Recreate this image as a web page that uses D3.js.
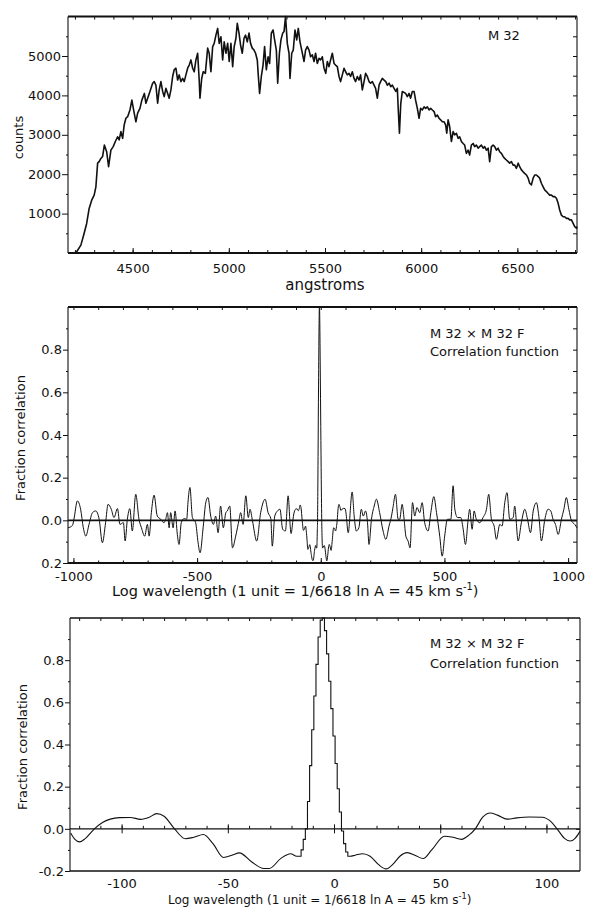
<!DOCTYPE html>
<html>
<head>
<meta charset="utf-8">
<script src="https://cdn.jsdelivr.net/npm/d3@7"></script>
<style>
  body { margin: 0; background: #fff; }
  svg { display: block; }
  text { font-family: "DejaVu Sans", sans-serif; fill: #111; }
  .axis path { display: none; }
  .axis line { stroke: #111; stroke-width: 1; }
  .axis text { font-size: 13px; }
</style>
</head>
<body>
<svg id="chart" width="589" height="911"></svg>
<script>
// Spectrum of M 32: [wavelength (angstroms), counts]
const spectrum = [
  [4205,0],[4231,200],[4248,500],[4261,750],[4274,1130],[4288,1350],[4300,1470],[4309,1680],[4318,2280],[4326,2320],
  [4335,2400],[4344,2450],[4353,2740],[4365,2570],[4375,2190],[4387,2610],[4399,2700],[4410,2830],[4422,2950],[4430,2870],
  [4439,3080],[4448,2910],[4456,3250],[4465,3420],[4474,3460],[4486,3630],[4496,3880],[4505,3630],[4517,3330],[4526,3550],
  [4538,3670],[4548,3880],[4561,4050],[4569,3800],[4578,3930],[4590,4100],[4604,4310],[4612,4350],[4621,4260],[4630,3800],
  [4638,4140],[4647,4350],[4656,4100],[4664,3970],[4673,4180],[4682,4050],[4690,3930],[4699,4140],[4708,4480],[4716,4650],
  [4725,4690],[4734,4390],[4742,4520],[4751,4350],[4760,4430],[4768,4350],[4777,4520],[4786,4690],[4794,4770],[4803,4900],
  [4812,4690],[4820,4600],[4829,4900],[4838,5070],[4846,4390],[4850,3930],[4859,4430],[4867,4600],[4878,4560],[4890,5200],
  [4898,5070],[4907,4600],[4916,5240],[4924,5320],[4933,5530],[4942,5700],[4950,5320],[4959,5490],[4968,4900],[4976,5360],
  [4985,5070],[4994,5320],[5002,4860],[5011,5320],[5020,4730],[5028,5240],[5037,5450],
  [5044,5830],[5053,5580],[5061,5280],[5070,5070],[5079,5450],[5087,5530],[5096,5360],[5105,5580],[5113,5320],[5122,5200],
  [5131,5150],[5139,5070],[5148,4900],[5153,4520],[5160,4050],[5169,4480],[5178,4770],[5186,5240],[5195,4650],[5204,4980],
  [5212,4810],[5221,5580],[5230,5660],[5238,5410],[5247,5150],[5254,4310],[5263,5070],[5271,5410],[5280,5580],[5287,5620],
  [5295,6000],[5304,5320],[5313,5070],[5318,4430],[5327,5070],[5335,5150],[5344,5660],[5353,5410],[5361,5700],[5370,5360],
  [5379,5150],[5391,4860],[5399,5150],[5408,5240],[5417,5150],[5425,4980],[5434,5030],[5443,4860],[5451,5070],[5460,4810],
  [5469,4940],[5477,4900],[5486,4980],[5495,4690],[5504,4560],[5512,4860],[5521,4730],[5529,4900],[5538,5070],[5547,4810],
  [5555,4770],[5564,4730],[5573,4480],[5581,4350],[5590,4520],[5599,4690],[5607,4600],[5616,4520],[5625,4560],[5633,4480],
  [5642,4600],[5651,4430],[5659,4350],[5668,4480],[5677,4390],[5685,4520],[5694,4140],[5703,4350],[5711,4560],[5720,4480],
  [5729,4350],[5737,4310],[5746,4350],[5755,4260],[5763,4180],[5772,3930],[5781,4260],[5789,4350],[5798,4430],[5807,4390],
  [5816,4350],[5824,4260],[5833,4310],[5842,4220],[5850,4260],[5859,4180],[5868,4100],[5876,4180],[5881,3630],[5887,3040],
  [5894,3800],[5902,4100],
  [5919,4050],[5928,3970],[5937,4050],[5945,3930],[5954,4100],[5963,4100],[5971,3880],[5980,3670],[5989,3420],[5997,3670],
  [6006,3630],[6015,3710],[6023,3670],[6032,3710],[6041,3630],[6049,3670],[6058,3630],[6067,3590],[6075,3460],[6084,3500],
  [6093,3420],[6101,3380],[6110,3330],[6119,3330],[6127,3250],[6133,3040],[6140,3380],[6148,3210],[6157,2830],[6166,3080],
  [6174,3000],[6183,3040],[6192,2910],[6200,2950],[6209,2830],[6218,2780],[6226,2740],[6235,2530],[6244,2610],[6252,2490],
  [6261,2740],[6270,2780],[6278,2700],[6287,2740],[6296,2660],[6304,2700],[6313,2740],[6322,2660],[6330,2700],[6339,2610],
  [6348,2660],[6356,2320],[6365,2700],[6374,2740],[6382,2700],[6391,2610],[6400,2660],[6408,2570],[6417,2530],[6426,2450],
  [6434,2400],[6443,2360],[6452,2320],[6460,2280],[6469,2320],[6478,2230],[6486,2230],[6495,2150],[6504,2280],[6512,2190],
  [6521,2110],[6530,2060],[6538,2020],[6547,1980],[6556,1900],[6564,1770],[6573,1730],[6582,1900],[6590,1980],[6599,1980],
  [6608,1940],[6616,1900],[6625,1770],[6634,1680],[6642,1600],[6651,1560],[6660,1510],[6668,1470],[6677,1470],[6686,1430],
  [6694,1430],[6703,1390],[6712,1260],[6720,1090],[6729,960],[6738,920],[6746,920],[6755,880],[6764,880],[6772,840],
  [6781,840],[6790,750],[6798,670],[6807,630],[6810,670]
];
const specXTicks = [4500, 5000, 5500, 6000, 6500];
const specYTicks = [1000, 2000, 3000, 4000, 5000];

// Correlation function: [lag (log-wavelength units), fraction correlation]
// outer parts, only seen in the wide panel
const corrFarLeft = [
  [-1022,-0.035],[-1004,-0.024],[-998,0.005],[-984,0.091],[-971,0.052],[-960,-0.035],[-950,-0.074],[-937,-0.019],
  [-923,0.036],[-910,0.044],[-896,0.005],[-883,-0.105],[-870,-0.011],[-860,0.075],[-847,0.052],[-836,0.013],
  [-822,0.055],[-812,-0.019],[-798,-0.011],[-791,-0.097],[-782,0.005],[-772,0.055],[-762,-0.05],[-748,0.122],
  [-735,0.005],[-725,-0.035],[-712,-0.074],[-701,-0.019],[-694,-0.074],[-685,0.036],[-674,0.118],[-661,0.02],
  [-647,0.005],[-634,-0.011],[-627,0.005],[-620,0.036],[-613,-0.035],[-607,0.036],[-597,-0.035],[-589,0.044],
  [-580,-0.066],[-573,-0.113],[-564,-0.011],[-553,0.008],[-542,0.005],[-537,0.083],[-529,0.154],[-519,0.013],
  [-506,-0.011],[-496,-0.105],[-488,-0.152],[-475,-0.027],[-465,0.083],[-456,0.107],[-445,0.02],[-434,-0.019],
  [-425,0.02],[-415,-0.058],[-405,0.067],[-394,-0.035],[-384,0.036],[-378,0.044],[-368,0.067],[-357,-0.129],
  [-344,-0.074],[-330,0.005],[-324,0.036],[-314,-0.019],[-303,0.115],[-293,0.013],[-286,0.052],[-276,-0.003],
  [-259,-0.097],[-243,0.036],[-225,0.099],[-213,0.036],[-202,0.008],[-196,-0.121],[-186,0.02],[-175,0.044],
  [-165,0.052],[-154,-0.042],[-143,-0.05],[-132,0.115]
];
const corrFarRight = [
  [127,0.133],[135,0.02],[144,-0.05],[154,-0.035],[164,0.052],[172,0.02],[181,0.044],[189,-0.011],[195,-0.113],
  [205,0.005],[216,0.067],[225,0.099],[238,0.036],[252,-0.05],[263,-0.089],[276,-0.027],[286,0.02],[292,0.06],
  [302,0.122],[313,0.005],[319,0.005],[329,0.075],[337,0.005],[344,-0.074],[353,-0.097],[361,-0.129],[371,0.083],
  [380,0.02],[389,0.06],[400,0.036],[410,0.083],[420,-0.011],[434,-0.05],[445,0.036],[457,0.111],[468,0.036],
  [481,-0.074],[491,-0.168],[501,-0.074],[512,0.005],[526,0.005],[535,0.162],[542,0.052],[553,0.013],[566,0.013],
  [575,-0.035],[585,-0.113],[596,0.005],[602,0.052],[612,-0.042],[620,0.044],[629,0.005],[643,-0.011],[656,0.013],
  [670,0.052],[679,0.122],[690,0.005],[701,-0.027],[710,-0.089],[724,-0.019],[733,-0.027],[744,0.083],[753,0.13],
  [764,0.005],[778,0.013],[784,0.067],[798,-0.097],[811,-0.011],[825,0.052],[836,0.005],[848,-0.058],[859,0.044],
  [872,0.083],[883,0.005],[892,-0.097],[906,0.005],[919,0.052],[930,0.044],[939,0.005],[949,-0.019],[960,-0.066],
  [973,0.005],[983,0.052],[993,0.107],[1003,0.052],[1014,-0.003],[1027,-0.019],[1036,-0.035]
];
// central part, shown enlarged in the lower panel
const corrLeft = [
  [-124,-0.02],[-122,-0.05],[-119.8,-0.062],[-117,-0.045],[-112.8,0],[-109,0.03],[-105.3,0.046],[-101,0.053],
  [-96,0.054],[-91,0.045],[-87,0.055],[-83.5,0.072],[-80,0.06],[-75.1,0],[-70,-0.047],[-66,-0.04],[-61.5,-0.027],
  [-57,-0.07],[-52,-0.136],[-48,-0.125],[-44.5,-0.114],[-39,-0.155],[-33,-0.188],[-30.5,-0.188],[-25,-0.14],
  [-20.5,-0.118],[-17.5,-0.13]
];
const corrPeak = [
  [-16,-0.13],[-15,-0.10],[-14,-0.05],[-13,0.0],[-12,0.13],[-11,0.30],[-10,0.47],[-9,0.63],[-8,0.78],[-7,0.91],
  [-6,0.99],[-5,1.0],[-4,0.94],[-3,0.83],[-2,0.70],[-1,0.57],[0,0.44],[1,0.31],[2,0.19],[3,0.08],[4,-0.01],
  [5,-0.07],[6,-0.11],[7,-0.13]
];
const corrRight = [
  [7.5,-0.13],[10,-0.125],[13.5,-0.118],[17,-0.13],[21,-0.17],[24.5,-0.19],[28,-0.165],[31,-0.13],[34.5,-0.113],
  [38,-0.125],[42,-0.141],[46,-0.1],[52,-0.035],[56,-0.04],[60,-0.05],[63.5,-0.03],[66.5,0],[70,0.055],[73.5,0.075],
  [77,0.065],[81.5,0.046],[86,0.052],[92,0.056],[98,0.055],[102,0.035],[105,0],[108.5,-0.045],[111.2,-0.058],
  [113.5,-0.045],[115.8,-0.012]
];
const wideXTicks = [-1000, -500, 0, 500, 1000];
const corrYTicks = [-0.2, 0, 0.2, 0.4, 0.6, 0.8];
const wideYLabels = ['0.2', '0.0', '0.2', '0.4', '0.6', '0.8'];
const zoomXTicks = [-100, -50, 0, 50, 100];
const zoomYLabels = ['-0.2', '0.0', '0.2', '0.4', '0.6', '0.8'];

const svg = d3.select('#chart');
const ink = '#111';
const hyphen = (d) => String(d).replace('\u2212', '-');

function frame(x, y, heavy) {
  const [x0, x1] = x.range();
  const [y0, y1] = y.range();
  const g = svg.append('g').attr('stroke', ink);
  g.append('line').attr('x1', x0).attr('x2', x1).attr('y1', y1).attr('y2', y1).attr('stroke-width', heavy);
  g.append('line').attr('x1', x0).attr('x2', x1).attr('y1', y0).attr('y2', y0).attr('stroke-width', heavy);
  g.append('line').attr('x1', x0).attr('x2', x0).attr('y1', y0).attr('y2', y1).attr('stroke-width', 1.1);
  g.append('line').attr('x1', x1).attr('x2', x1).attr('y1', y0).attr('y2', y1).attr('stroke-width', 1.1);
}

function addAxis(axis, tx, ty) {
  return svg.append('g').attr('class', 'axis').attr('transform', `translate(${tx},${ty})`).call(axis);
}

function ticksEvery(scale, step) {
  const [a, b] = scale.domain();
  return d3.range(Math.ceil(a / step) * step, b + 1e-9, step);
}

function yTitle(label, x, y) {
  svg.append('text').attr('transform', `translate(${x},${y}) rotate(-90)`)
    .attr('text-anchor', 'middle').style('font-size', '13px').text(label);
}

function xTitle(x, y, size) {
  const t = svg.append('text').attr('x', x).attr('y', y).style('font-size', size + 'px');
  t.append('tspan').text('Log wavelength (1 unit = 1/6618 ln A = 45 km s');
  t.append('tspan').attr('dy', -size * 0.4).style('font-size', (size * 0.68) + 'px').text('-1');
  t.append('tspan').attr('dy', size * 0.4).text(')');
}

function note(lines, x, y) {
  lines.forEach((s, i) => {
    svg.append('text').attr('x', x).attr('y', y[i]).style('font-size', '13px').text(s);
  });
}

// ---------- top panel: spectrum ----------
const sx = d3.scaleLinear().domain([4164, 6810]).range([68, 577]);
const sy = d3.scaleLinear().domain([0, 6000]).range([253, 16.6]);

addAxis(d3.axisBottom(sx).tickValues(specXTicks).tickSizeInner(-5).tickSizeOuter(0).tickPadding(10.5).tickFormat(d3.format('d')), 0, sy(0));
addAxis(d3.axisBottom(sx).tickValues(ticksEvery(sx, 100)).tickSize(-3).tickFormat(''), 0, sy(0));
addAxis(d3.axisTop(sx).tickValues(ticksEvery(sx, 100)).tickSize(-3).tickFormat(''), 0, sy(6000));
addAxis(d3.axisLeft(sy).tickValues(specYTicks).tickSize(6).tickPadding(1).tickFormat(d3.format('d')), sx(4164), 0);
addAxis(d3.axisLeft(sy).tickValues([500, 1500, 2500, 3500, 4500, 5500]).tickSize(2).tickFormat(''), sx(4164), 0);
addAxis(d3.axisRight(sy).tickValues(ticksEvery(sy, 500).filter((d) => d > 0 && d < 6000)).tickSize(-4).tickFormat(''), sx(6810), 0);

svg.append('path').datum(spectrum)
  .attr('fill', 'none').attr('stroke', ink).attr('stroke-width', 1.6).attr('stroke-linejoin', 'round')
  .attr('d', d3.line().x((d) => sx(d[0])).y((d) => sy(d[1])));

frame(sx, sy, 2);
yTitle('counts', 23, 137.5);
svg.append('text').attr('x', 325).attr('y', 290).attr('text-anchor', 'middle').style('font-size', '15px').text('angstroms');
note(['M 32'], 488, [40]);

// ---------- middle panel: full correlation function ----------
const wx = d3.scaleLinear().domain([-1022, 1036]).range([68, 577]);
const wy = d3.scaleLinear().domain([-0.2, 1.0]).range([563, 307]);

addAxis(d3.axisBottom(wx).tickValues(wideXTicks).tickSizeInner(-5).tickSizeOuter(0).tickPadding(9).tickFormat(hyphen), 0, wy(-0.2));
addAxis(d3.axisBottom(wx).tickValues(ticksEvery(wx, 100)).tickSize(-2.5).tickFormat(''), 0, wy(-0.2));
addAxis(d3.axisTop(wx).tickValues(ticksEvery(wx, 100)).tickSize(-3).tickFormat(''), 0, wy(1.0));
addAxis(d3.axisLeft(wy).tickValues(corrYTicks).tickSize(5).tickPadding(1).tickFormat((d, i) => wideYLabels[i]), wx(-1022), 0);
addAxis(d3.axisLeft(wy).tickValues([-0.1, 0.1, 0.3, 0.5, 0.7, 0.9]).tickSize(2).tickFormat(''), wx(-1022), 0);
addAxis(d3.axisRight(wy).tickValues(ticksEvery(wy, 0.1).filter((d) => d > -0.15 && d < 0.95)).tickSize(-4).tickFormat(''), wx(1036), 0);

svg.append('line').attr('x1', wx(-1022)).attr('x2', wx(1036)).attr('y1', wy(0)).attr('y2', wy(0))
  .attr('stroke', ink).attr('stroke-width', 1.6);

const wide = [...corrFarLeft, ...corrLeft, ...corrPeak, ...corrRight, ...corrFarRight];
svg.append('path').datum(wide)
  .attr('fill', 'none').attr('stroke', ink).attr('stroke-width', 1)
  .attr('d', d3.line().x((d) => wx(d[0])).y((d) => wy(d[1])).curve(d3.curveMonotoneX));

frame(wx, wy, 2);
yTitle('Fraction correlation', 25, 438);
xTitle(112, 596, 14.5);
note(['M 32 \u00d7 M 32 F', 'Correlation function'], 430, [338, 356]);

// ---------- bottom panel: central part enlarged ----------
const zx = d3.scaleLinear().domain([-124.3, 115.8]).range([70, 580]);
const zy = d3.scaleLinear().domain([-0.2, 1.0]).range([871, 618]);

// labels under the frame, ticks ride on the zero line
addAxis(d3.axisBottom(zx).tickValues(zoomXTicks).tickSize(0).tickPadding(8).tickFormat(hyphen), 0, zy(-0.2));
addAxis(d3.axisBottom(zx).tickValues(zoomXTicks).tickSize(4.5).tickFormat(''), 0, zy(0));
addAxis(d3.axisTop(zx).tickValues(zoomXTicks).tickSize(4.5).tickFormat(''), 0, zy(0));
addAxis(d3.axisTop(zx).tickValues(ticksEvery(zx, 10)).tickSize(3).tickFormat(''), 0, zy(0));
addAxis(d3.axisTop(zx).tickValues(ticksEvery(zx, 10)).tickSize(-3).tickFormat(''), 0, zy(1.0));
addAxis(d3.axisLeft(zy).tickValues(corrYTicks).tickSize(5).tickPadding(1).tickFormat((d, i) => zoomYLabels[i]), zx(-124.3), 0);
addAxis(d3.axisLeft(zy).tickValues([-0.1, 0.1, 0.3, 0.5, 0.7, 0.9]).tickSize(2).tickFormat(''), zx(-124.3), 0);
addAxis(d3.axisRight(zy).tickValues(ticksEvery(zy, 0.1).filter((d) => d > -0.15 && d < 0.95)).tickSize(-4).tickFormat(''), zx(115.8), 0);

svg.append('line').attr('x1', zx(-124.3)).attr('x2', zx(115.8)).attr('y1', zy(0)).attr('y2', zy(0))
  .attr('stroke', ink).attr('stroke-width', 1.3);

const zline = d3.line().x((d) => zx(d[0])).y((d) => zy(d[1]));
const zoomed = svg.append('g').attr('fill', 'none').attr('stroke', ink).attr('stroke-width', 1.1);
zoomed.append('path').datum([...corrLeft, corrPeak[0]]).attr('d', zline.curve(d3.curveMonotoneX));
zoomed.append('path').datum(corrPeak).attr('d', zline.curve(d3.curveStep));
zoomed.append('path').datum([corrPeak[corrPeak.length - 1], ...corrRight]).attr('d', zline.curve(d3.curveMonotoneX));

frame(zx, zy, 1.6);
yTitle('Fraction correlation', 26.5, 747);
xTitle(168, 904, 12);
note(['M 32 \u00d7 M 32 F', 'Correlation function'], 430, [648, 668]);
</script>
</body>
</html>
